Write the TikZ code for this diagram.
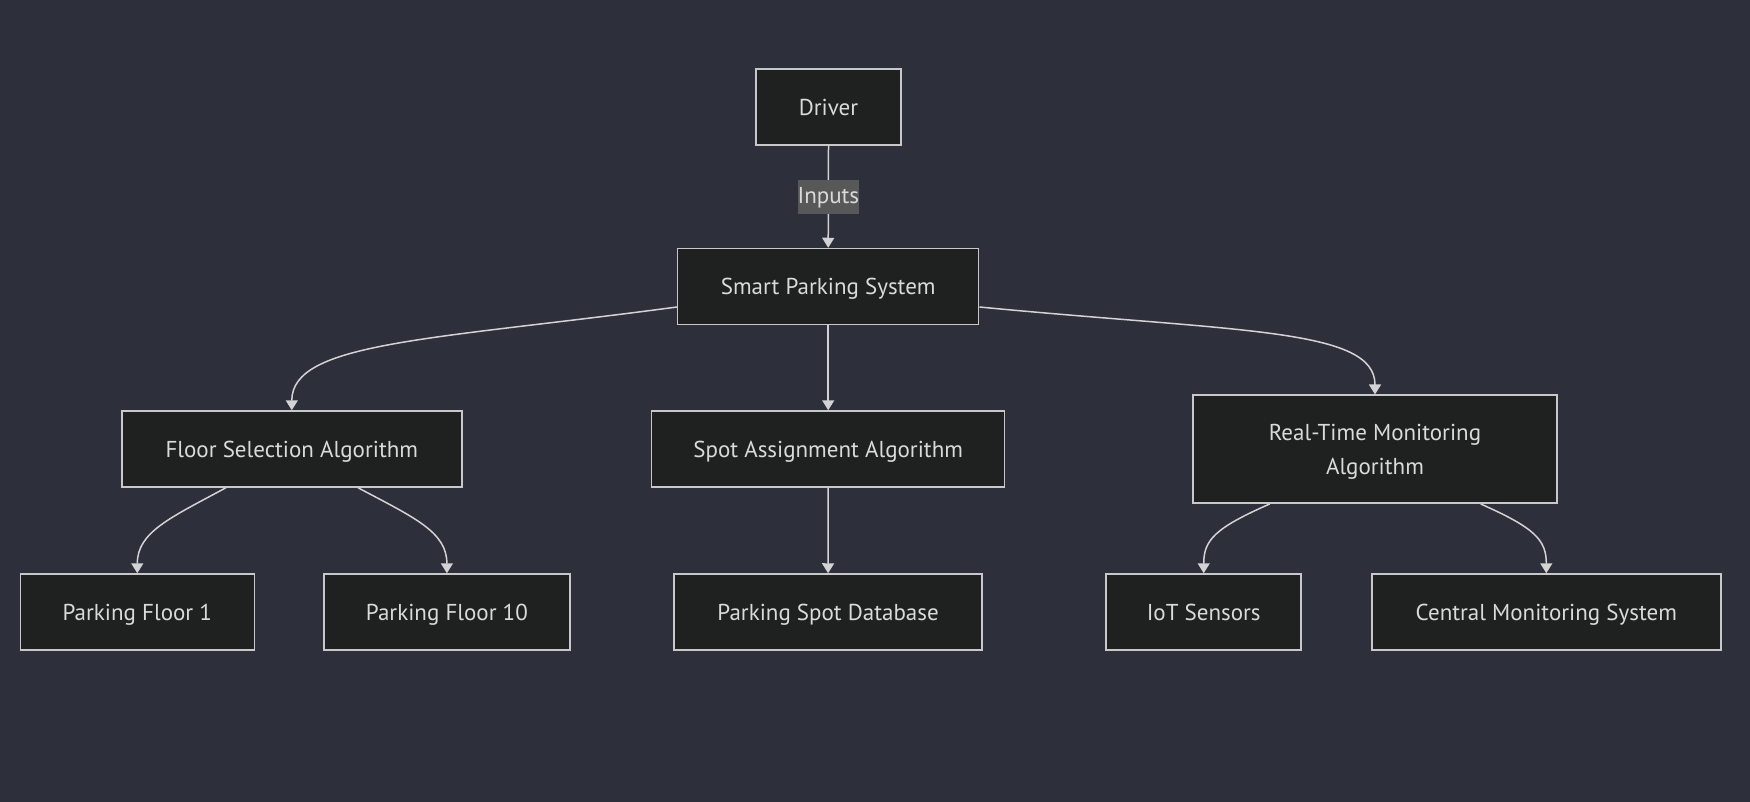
\documentclass[tikz,border=0pt]{standalone}
\usepackage{fontspec}
\setmainfont{PT Sans}
\usetikzlibrary{arrows.meta,calc}
\definecolor{bg}{HTML}{2D303A}
\definecolor{nodefill}{HTML}{1F2020}
\definecolor{nodeborder}{HTML}{C8C8C8}
\definecolor{txt}{HTML}{DADADA}
\definecolor{edge}{HTML}{D3D3D3}
\definecolor{lblbg}{HTML}{585858}
\tikzset{
  box/.style={draw=nodeborder, fill=nodefill, line width=1.5pt, inner sep=0pt,
    text=txt, font=\fontsize{23}{34}\selectfont, align=center, text depth=0pt},
  conn/.style={draw=edge, line width=1.5pt, -{Triangle[width=12pt,length=10pt]}},
  lbl/.style={fill=lblbg, text=txt, inner sep=0pt, minimum width=61pt, minimum height=34pt,
    font=\fontsize{23}{25}\selectfont, text height=14pt, text depth=0pt}
}
\begin{document}
\begin{tikzpicture}[x=1pt,y=-1pt]
\fill[bg] (0,0) rectangle (1750,802);
\useasboundingbox (0,0) rectangle (1750,802);

\node[box, minimum width=145pt, minimum height=76pt] (driver) at (828.5,107) {Driver};
\node[box, minimum width=301pt, minimum height=76pt] (sps) at (828.2,286.5) {Smart Parking System};
\node[box, minimum width=340pt, minimum height=76pt] (fsa) at (291.8,449) {Floor Selection Algorithm};
\node[box, minimum width=353pt, minimum height=76pt] (saa) at (828.2,449) {Spot Assignment Algorithm};
\node[box, minimum width=364pt, minimum height=108pt] (rtm) at (1375,449.2) {Real-Time Monitoring\\Algorithm};
\node[box, minimum width=234pt, minimum height=76pt] (pf1) at (137.3,612) {Parking Floor 1};
\node[box, minimum width=246pt, minimum height=76pt] (pf10) at (446.9,612) {Parking Floor 10};
\node[box, minimum width=308pt, minimum height=76pt] (psd) at (828.1,612) {Parking Spot Database};
\node[box, minimum width=195pt, minimum height=76pt] (iot) at (1203.7,612) {IoT Sensors};
\node[box, minimum width=349pt, minimum height=76pt] (cms) at (1546.3,612) {Central Monitoring System};

% Driver -> SPS with label
\draw[conn] (driver.south) -- node[lbl] (inputs) {Inputs} (sps.north);

% SPS -> children
\coordinate (sL) at ($(sps.west)+(0,20.5)$);
\coordinate (sR) at ($(sps.east)+(0,20.5)$);
\draw[conn] (sL) .. controls (430,340) and (291.8,342) .. (fsa.north);
\draw[conn] (sps.south) -- (saa.north);
\draw[conn] (sR) .. controls (1240,332) and (1375,328) .. (rtm.north);

% FSA -> floors
\coordinate (f1) at ($(fsa.south west)!0.307!(fsa.south east)$);
\coordinate (f2) at ($(fsa.south west)!0.694!(fsa.south east)$);
\draw[conn] (f1) .. controls (170,518) and (137.3,532) .. (pf1.north);
\draw[conn] (f2) .. controls (415,518) and (446.9,532) .. (pf10.north);

% SAA -> DB
\draw[conn] (saa.south) -- (psd.north);

% RTM -> IoT, CMS
\coordinate (r1) at ($(rtm.south west)!0.212!(rtm.south east)$);
\coordinate (r2) at ($(rtm.south west)!0.789!(rtm.south east)$);
\draw[conn] (r1) .. controls (1215,528) and (1203.7,540) .. (iot.north);
\draw[conn] (r2) .. controls (1535,528) and (1546.3,540) .. (cms.north);
\end{tikzpicture}
\end{document}
